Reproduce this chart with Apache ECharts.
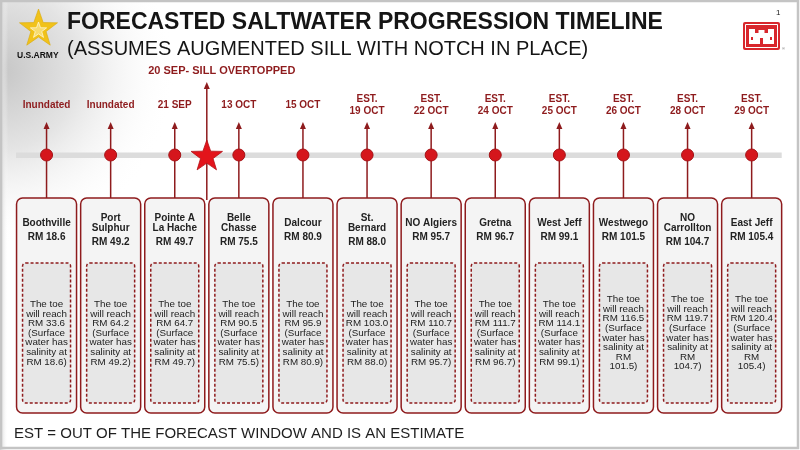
<!DOCTYPE html>
<html>
<head>
<meta charset="utf-8">
<style>
  html, body { margin: 0; padding: 0; background: #fff; }
  #chart { width: 800px; height: 450px; }
</style>
<script src="https://cdn.jsdelivr.net/npm/echarts@6/dist/echarts.min.js"></script>
</head>
<body>
<div id="chart"></div>
<script>
// ---------------- DATA ----------------
const categories = ['Boothville', 'Port\nSulphur', 'Pointe A\nLa Hache', 'Belle\nChasse', 'Dalcour', 'St.\nBernard',
                    'NO Algiers', 'Gretna', 'West Jeff', 'Westwego', 'NO\nCarrollton', 'East Jeff'];
const riverMile = [18.6, 49.2, 49.7, 75.5, 80.9, 88.0, 95.7, 96.7, 99.1, 101.5, 104.7, 105.4];
const toeMile = [33.6, 64.2, 64.7, 90.5, 95.9, 103.0, 110.7, 111.7, 114.1, 116.5, 119.7, 120.4];
const dateLabels = ['Inundated', 'Inundated', '21 SEP', '13 OCT', '15 OCT', '19 OCT',
                    '22 OCT', '24 OCT', '25 OCT', '26 OCT', '28 OCT', '29 OCT'];
const isEstimate = [false, false, false, false, false, true, true, true, true, true, true, true];
const sillEventLabel = '20 SEP- SILL OVERTOPPED';
const sillEventAfterIndex = 2;   // event lies between station 3 and station 4
const titleText = 'FORECASTED SALTWATER PROGRESSION TIMELINE';
const subtitleText = '(ASSUMES AUGMENTED SILL WITH NOTCH IN PLACE)';
const footnoteText = 'EST = OUT OF THE FORECAST WINDOW AND IS AN ESTIMATE';

// ---------------- STYLE ----------------
const DARK_RED = '#8e1b1d';
const DOT_RED = '#d5161c';
const FONT = '"Liberation Sans", Arial, sans-serif';

function starPoints(cx, cy, R, r) {
  const pts = [];
  for (let k = 0; k < 10; k++) {
    const ang = -Math.PI / 2 + k * Math.PI / 5;
    const rad = k % 2 === 0 ? R : r;
    pts.push([cx + rad * Math.cos(ang), cy + rad * Math.sin(ang)]);
  }
  return pts;
}

const chart = echarts.init(document.getElementById('chart'), null, { renderer: 'canvas' });

function stationItem(params, api) {
  const i = api.value(0);
  const Y = v => api.coord([i, v])[1];
  const cx = api.coord([i, 0])[0];
  const name = categories[i];
  const nLines = name.split('\n').length;
  const rm = riverMile[i];
  const toe = toeMile[i];
  const rmStr = rm.toFixed(1);
  const inner = 'The toe\nwill reach\nRM ' + toe.toFixed(1) + '\n(Surface\nwater has\nsalinity at\n' +
    (rm >= 100 ? 'RM\n' + rmStr + ')' : 'RM ' + rmStr + ')');
  const dateText = (isEstimate[i] ? 'EST.\n' : '') + dateLabels[i];
  const nameLast = nLines > 1 ? 228 : 223;
  return {
    type: 'group',
    children: [
      { type: 'line', shape: { x1: cx, y1: Y(198), x2: cx, y2: Y(128) },
        style: { stroke: DARK_RED, lineWidth: 1.5 } },
      { type: 'polygon', shape: { points: [[cx, Y(122)], [cx - 3, Y(129)], [cx + 3, Y(129)]] },
        style: { fill: DARK_RED } },
      { type: 'circle', shape: { cx: cx, cy: Y(155), r: 6 },
        style: { fill: DOT_RED, stroke: '#a51216', lineWidth: 1 } },
      { type: 'text', x: cx, y: Y(105),
        style: { text: dateText, fill: DARK_RED, font: 'bold 10px ' + FONT, align: 'center',
                 verticalAlign: 'middle', lineHeight: 12 } },
      { type: 'rect', shape: { x: cx - 30, y: Y(198), width: 60, height: 215, r: 6 },
        style: { fill: '#f4f4f4', stroke: DARK_RED, lineWidth: 1.5 } },
      { type: 'rect', shape: { x: cx - 24, y: Y(263), width: 48, height: 140, r: 3 },
        style: { fill: '#e7e7e7', stroke: DARK_RED, lineWidth: 1.5, lineDash: [3, 2] } },
      { type: 'text', x: cx, y: Y(nameLast + 5),
        style: { text: name, fill: '#222', font: 'bold 10px ' + FONT, align: 'center',
                 verticalAlign: 'bottom', lineHeight: 10 } },
      { type: 'text', x: cx, y: Y(nameLast + 14),
        style: { text: 'RM ' + rmStr, fill: '#222', font: 'bold 10px ' + FONT, align: 'center',
                 verticalAlign: 'middle' } },
      { type: 'text', x: cx, y: Y(333),
        style: { text: inner, fill: '#222', font: '9.8px ' + FONT, align: 'center',
                 verticalAlign: 'middle', lineHeight: 9.6 } }
    ]
  };
}

function sillItem(params, api) {
  const i = api.value(0);
  const x = (api.coord([i, 0])[0] + api.coord([i + 1, 0])[0]) / 2;
  const Y = v => api.coord([i, v])[1];
  return {
    type: 'group',
    children: [
      { type: 'line', shape: { x1: x, y1: Y(200), x2: x, y2: Y(88) },
        style: { stroke: DARK_RED, lineWidth: 1.5 } },
      { type: 'polygon', shape: { points: [[x, Y(82)], [x - 3, Y(89)], [x + 3, Y(89)]] },
        style: { fill: DARK_RED } },
      { type: 'polygon', shape: { points: starPoints(x, Y(156.5), 16.5, 6.6) },
        style: { fill: '#e3141b', stroke: '#b31016', lineWidth: 0.8 } },
      { type: 'text', x: x + 15, y: Y(71),
        style: { text: params.dataIndex === 0 ? sillEventLabel : '', fill: DARK_RED,
                 font: 'bold 11px ' + FONT, align: 'center', verticalAlign: 'middle' } }
    ]
  };
}

function bandItem(params, api) {
  const cs = params.coordSys;
  return {
    type: 'rect',
    shape: { x: cs.x + 1.5, y: api.coord([0, 152.5])[1], width: cs.width - 3.5, height: 5.5 },
    style: { fill: '#dcdcdc' }
  };
}

const option = {
  animation: false,
  backgroundColor: '#ffffff',
  grid: { left: 14.5, width: 769.2, top: 0, height: 450 },
  xAxis: { type: 'category', data: categories, show: false },
  yAxis: { type: 'value', min: 0, max: 450, inverse: true, show: false },
  series: [
    { type: 'custom', z: 1, renderItem: bandItem, data: [[0]], silent: true },
    { type: 'custom', z: 2, renderItem: stationItem, data: categories.map((c, i) => [i]), silent: true },
    { type: 'custom', z: 3, renderItem: sillItem, data: [[sillEventAfterIndex]], silent: true }
  ],
  graphic: [
    // page frame & left vignette
    { type: 'rect', z: -10, silent: true, shape: { x: 0, y: 0, width: 320, height: 320 },
      style: { fill: { type: 'radial', x: 0, y: 0.22, r: 0.55,
        colorStops: [{ offset: 0, color: '#c6c6c6' }, { offset: 0.45, color: '#e4e4e4' },
                     { offset: 1, color: 'rgba(255,255,255,0)' }] } } },
    { type: 'rect', z: -9, silent: true, shape: { x: 0, y: 0, width: 8, height: 450 },
      style: { fill: { type: 'linear', x: 0, y: 0, x2: 1, y2: 0,
        colorStops: [{ offset: 0, color: '#cfcfcf' }, { offset: 1, color: 'rgba(255,255,255,0)' }] } } },
    { type: 'rect', z: 50, silent: true, shape: { x: 1, y: 1, width: 797, height: 447 },
      style: { fill: 'none', stroke: '#c4c4c4', lineWidth: 2.5 } },
    // titles
    { type: 'text', left: 67, top: 11, silent: true,
      style: { text: titleText, fill: '#151515', font: 'bold 23px ' + FONT } },
    { type: 'text', left: 67, top: 39, silent: true,
      style: { text: subtitleText, fill: '#151515', font: '20px ' + FONT } },
    { type: 'text', left: 14, top: 426, silent: true,
      style: { text: footnoteText, fill: '#1e1e1e', font: '15px ' + FONT } },
    // U.S. Army logo
    { type: 'polygon', silent: true, shape: { points: starPoints(38.5, 29, 20, 8) },
      style: { fill: '#f1c21a', stroke: '#d9a90c', lineWidth: 0.6 } },
    { type: 'polygon', silent: true, shape: { points: starPoints(38.5, 30.5, 8.5, 3.4) },
      style: { fill: '#f7dc70', stroke: '#fff6d0', lineWidth: 0.8 } },
    { type: 'text', left: 17, top: 51, silent: true,
      style: { text: 'U.S.ARMY', fill: '#111', font: 'bold 8.5px ' + FONT } },
    // USACE castle logo
    { type: 'rect', silent: true, shape: { x: 743, y: 22, width: 37, height: 28, r: 2 },
      style: { fill: '#d8262c' } },
    { type: 'rect', silent: true, shape: { x: 745.5, y: 24.5, width: 32, height: 23 },
      style: { fill: 'none', stroke: '#ffffff', lineWidth: 1 } },
    { type: 'rect', silent: true, shape: { x: 749, y: 33, width: 25, height: 11 }, style: { fill: '#ffffff' } },
    { type: 'rect', silent: true, shape: { x: 749, y: 29, width: 6, height: 6 }, style: { fill: '#ffffff' } },
    { type: 'rect', silent: true, shape: { x: 768, y: 29, width: 6, height: 6 }, style: { fill: '#ffffff' } },
    { type: 'rect', silent: true, shape: { x: 758.5, y: 30, width: 6, height: 4 }, style: { fill: '#ffffff' } },
    { type: 'rect', silent: true, shape: { x: 760, y: 38, width: 3, height: 6 }, style: { fill: '#d8262c' } },
    { type: 'rect', silent: true, shape: { x: 751, y: 37, width: 2, height: 3 }, style: { fill: '#d8262c' } },
    { type: 'rect', silent: true, shape: { x: 770, y: 37, width: 2, height: 3 }, style: { fill: '#d8262c' } },
    { type: 'text', left: 776, top: 9, silent: true,
      style: { text: '1', fill: '#222', font: '8px ' + FONT } },
    { type: 'text', left: 782, top: 47, silent: true,
      style: { text: '®', fill: '#666', font: '4px ' + FONT } }
  ]
};

chart.setOption(option);
</script>
</body>
</html>
